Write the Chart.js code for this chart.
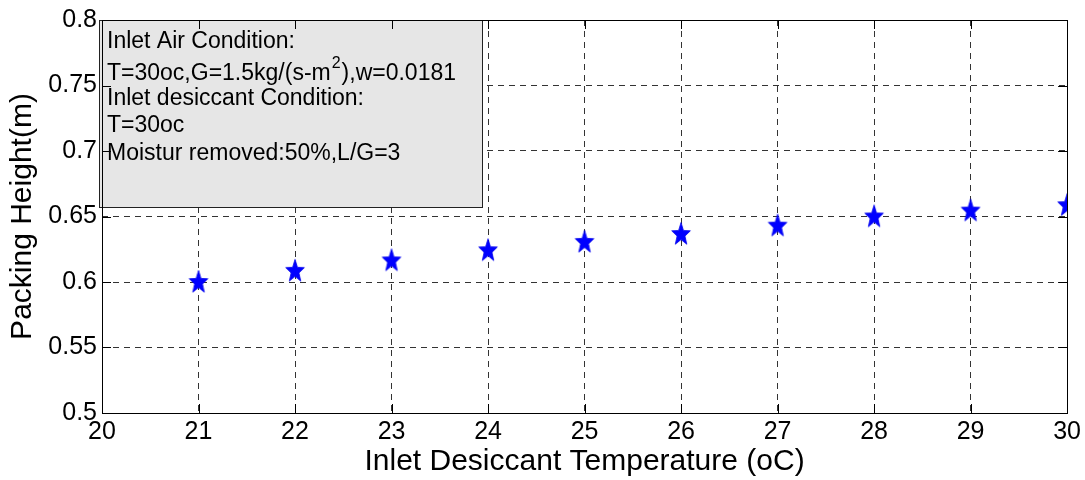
<!DOCTYPE html>
<html>
<head>
<meta charset="utf-8">
<script src="https://cdn.jsdelivr.net/npm/chart.js@4/dist/chart.umd.min.js"></script>
<style>
  body { margin: 0; background: #fff; }
  #wrap { width: 1085px; height: 480px; }
</style>
</head>
<body>
<div id="wrap"><canvas id="chart" width="1085" height="480"></canvas></div>
<script>
// inlet desiccant temperature (oC) vs packing height (m)
const temps = [21, 22, 23, 24, 25, 26, 27, 28, 29, 30];
const heights = [0.600, 0.6085, 0.6165, 0.6242, 0.6306, 0.6366, 0.6430, 0.6500, 0.6545, 0.6586];
const xTickLabels = ['20', '21', '22', '23', '24', '25', '26', '27', '28', '29', '30'];
const yTickLabels = ['0.5', '0.55', '0.6', '0.65', '0.7', '0.75', '0.8'];
const noteLines = ['Inlet Air Condition:', 'T=30oc,G=1.5kg/(s-m', 'Inlet desiccant Condition:', 'T=30oc', 'Moistur removed:50%,L/G=3'];

const FONT = "'Liberation Sans', Arial, sans-serif";

// filled pentagram marker like matlab 'p'
function makeStar() {
  const c = document.createElement('canvas');
  c.width = 22; c.height = 26;
  const g = c.getContext('2d');
  const cx = 11, cy = 13.5, rx = 9.8, ry = 12, k = 0.42;
  g.beginPath();
  for (let i = 0; i < 10; i++) {
    const a = -Math.PI / 2 + i * Math.PI / 5;
    const f = i % 2 ? k : 1;
    const px = cx + Math.cos(a) * rx * f, py = cy + Math.sin(a) * ry * f;
    i ? g.lineTo(px, py) : g.moveTo(px, py);
  }
  g.closePath();
  g.fillStyle = '#0000ff';
  g.fill();
  g.strokeStyle = '#0000ee';
  g.lineWidth = 0.8;
  g.stroke();
  return c;
}

const noteBox = {
  id: 'noteBox',
  beforeDatasetsDraw(chart) {
    const { ctx, chartArea: a } = chart;
    const x0 = Math.round(a.left) - 3, y0 = Math.round(a.top), w = 383, h = 187;
    ctx.save();
    ctx.fillStyle = '#e6e6e6';
    ctx.fillRect(x0, y0, w, h);
    ctx.strokeStyle = '#222';
    ctx.lineWidth = 1;
    ctx.strokeRect(x0 + 0.5, y0 + 0.5, w, h);
    ctx.fillStyle = '#000';
    ctx.textBaseline = 'alphabetic';
    const tx = x0 + 8;
    const base = [28, 60, 85, 112, 140];
    noteLines.forEach((s, i) => {
      ctx.font = '23px ' + FONT;
      ctx.fillText(s, tx, y0 + base[i]);
      if (i === 1) {
        let wx = tx + ctx.measureText(s).width;
        ctx.font = '16px ' + FONT;
        ctx.fillText('2', wx + 1, y0 + base[i] - 12);
        wx += ctx.measureText('2').width + 2;
        ctx.font = '23px ' + FONT;
        ctx.fillText('),w=0.0181', wx, y0 + base[i]);
      }
    });
    ctx.restore();
  }
};

const frame = {
  id: 'frame',
  afterDraw(chart) {
    const { ctx, chartArea: a, scales } = chart;
    ctx.save();
    ctx.strokeStyle = '#000';
    ctx.lineWidth = 1;
    ctx.beginPath();
    const tl = 9;
    scales.x.ticks.forEach(t => {
      const x = Math.round(scales.x.getPixelForValue(t.value)) + 0.5;
      ctx.moveTo(x, a.bottom); ctx.lineTo(x, a.bottom - tl);
      ctx.moveTo(x, a.top); ctx.lineTo(x, a.top + tl);
    });
    scales.y.ticks.forEach(t => {
      const y = Math.round(scales.y.getPixelForValue(t.value)) + 0.5;
      ctx.moveTo(a.left, y); ctx.lineTo(a.left + tl, y);
      ctx.moveTo(a.right, y); ctx.lineTo(a.right - tl, y);
    });
    ctx.stroke();
    ctx.strokeRect(Math.round(a.left) + 0.5, Math.round(a.top) + 0.5, Math.round(a.right - a.left), Math.round(a.bottom - a.top));
    ctx.restore();
  }
};

const star = makeStar();

new Chart(document.getElementById('chart'), {
  type: 'scatter',
  data: {
    datasets: [{
      data: temps.map((t, i) => ({ x: t, y: heights[i] })),
      pointStyle: star,
      pointRadius: 11,
      pointHoverRadius: 11
    }]
  },
  options: {
    responsive: false,
    animation: false,
    layout: { padding: { top: 17, right: 17, left: 0, bottom: 0 } },
    plugins: { legend: { display: false }, tooltip: { enabled: false } },
    scales: {
      x: {
        type: 'linear', min: 20, max: 30,
        afterFit: s => { s.height = 67; },
        ticks: {
          stepSize: 1, color: '#000', padding: 4,
          font: { family: FONT, size: 25 },
          callback: (v, i) => xTickLabels[i]
        },
        grid: { color: '#333', lineWidth: 1, drawTicks: false },
        border: { display: false, dash: [6, 5] },
        title: {
          display: true, text: 'Inlet Desiccant Temperature (oC)', color: '#000',
          font: { family: FONT, size: 30 }, padding: { top: 0, bottom: 0 }
        }
      },
      y: {
        type: 'linear', min: 0.5, max: 0.8,
        afterFit: s => { s.width = 102; },
        ticks: {
          stepSize: 0.05, color: '#000', padding: 5,
          font: { family: FONT, size: 25 },
          callback: (v, i) => yTickLabels[i]
        },
        grid: { color: '#333', lineWidth: 1, drawTicks: false },
        border: { display: false, dash: [6, 5] },
        title: {
          display: true, text: 'Packing Height(m)', color: '#000',
          font: { family: FONT, size: 30 }, padding: { top: 5, bottom: 0 }
        }
      }
    }
  },
  plugins: [noteBox, frame]
});
</script>
</body>
</html>
